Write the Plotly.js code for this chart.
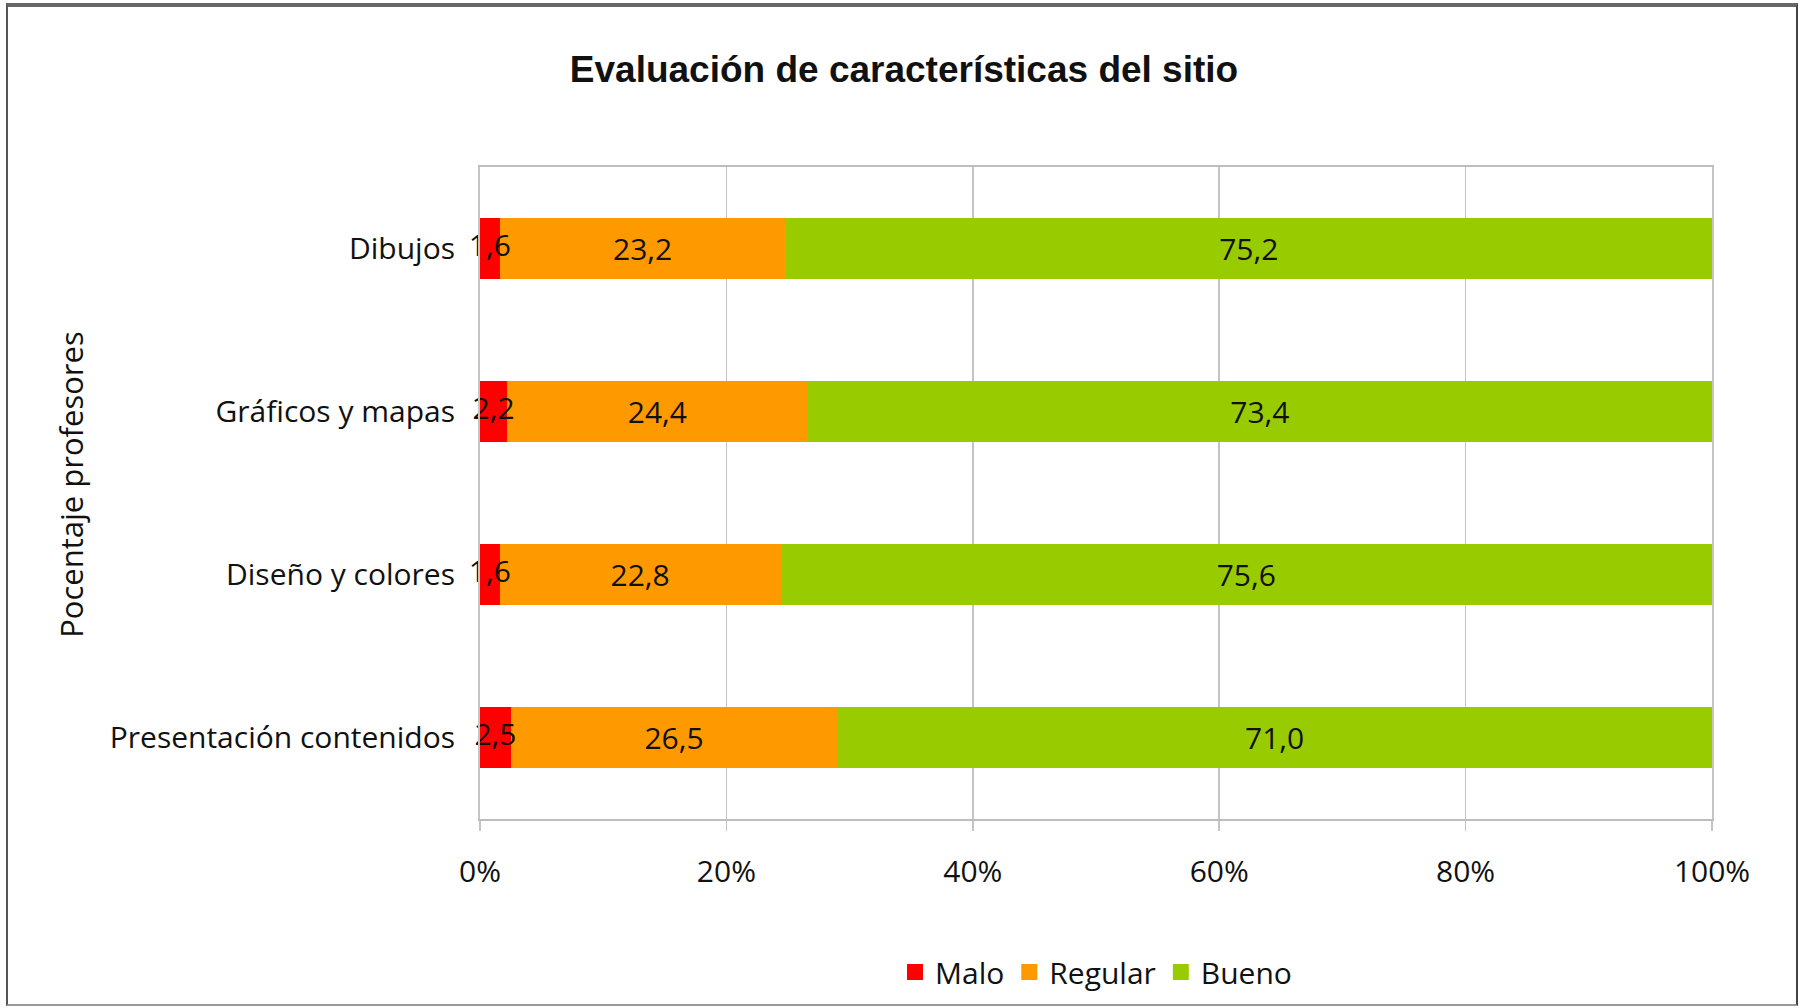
<!DOCTYPE html>
<html>
<head>
<meta charset="utf-8">
<script src="https://cdn.plot.ly/plotly-3.0.1.min.js"></script>
<style>
  html, body { margin: 0; padding: 0; background: #fff; }
  #wrap { position: relative; width: 1808px; height: 1008px; }
  #chart { width: 1808px; height: 1008px; }
  #frame { position: absolute; left: 6px; top: 3px; width: 1792px; height: 1003px;
           border-left: 2px solid #555; border-right: 2px solid #444; border-top: 4px solid #666; border-bottom: 2px solid #999;
           pointer-events: none; box-sizing: border-box; }
</style>
</head>
<body>
<div id="wrap">
  <div id="chart"></div>
  <div id="frame"></div>
</div>
<script>
const categories = ["Dibujos", "Gráficos y mapas", "Diseño y colores", "Presentación contenidos"];
const malo    = [1.6, 2.2, 1.6, 2.5];
const regular = [23.2, 24.4, 22.8, 26.5];
const bueno   = [75.2, 73.4, 75.6, 71.0];
const seriesNames = ["Malo", "Regular", "Bueno"];
const seriesColors = ["#FF0000", "#FF9900", "#99CC00"];
const xTickVals = [0, 20, 40, 60, 80, 100];
const xTickText = ["0%", "20%", "40%", "60%", "80%", "100%"];

const labelFont = { family: "Open Sans, Liberation Sans, sans-serif", size: 30, color: "#111" };

function series(name, vals, color, withText) {
  const t = {
    type: "bar", orientation: "h", name: name, showlegend: false,
    y: categories, x: vals,
    marker: { color: color, line: { width: 0 } },
    hoverinfo: "skip", cliponaxis: false
  };
  if (withText) {
    Object.assign(t, {
      texttemplate: "%{x:.1f}", textposition: "inside", insidetextanchor: "middle",
      textangle: 0, constraintext: "none", textfont: labelFont
    });
  } else {
    t.textposition = "none";
  }
  return t;
}

const data = [
  series(seriesNames[0], malo, seriesColors[0], false),
  series(seriesNames[1], regular, seriesColors[1], true),
  series(seriesNames[2], bueno, seriesColors[2], true),
  // labels of the thin "Malo" segments, drawn on top so they are not covered
  {
    type: "scatter", mode: "text", showlegend: false, hoverinfo: "skip",
    y: categories, x: malo.map(v => v / 2),
    text: malo.map(v => v.toFixed(1).replace(".", ",")),
    textposition: "middle center", textfont: labelFont, cliponaxis: false
  }
];

// legend entries (square swatches)
seriesNames.forEach((n, i) => {
  data.push({
    type: "scatter", mode: "markers", name: n, x: [null], y: [null],
    marker: { symbol: "square", size: 16, color: seriesColors[i] },
    hoverinfo: "skip", showlegend: true
  });
});

const layout = {
  width: 1808, height: 1008,
  margin: { l: 480, r: 96, t: 167, b: 189 },
  paper_bgcolor: "#fff", plot_bgcolor: "#fff",
  separators: ",.",
  barmode: "stack", bargap: 0.62,
  title: {
    text: "<b>Evaluación de características del sitio</b>",
    font: { family: "Liberation Sans Narrow, Arial Narrow, Liberation Sans, sans-serif", size: 37, color: "#111" },
    xref: "container", x: 0.5, xanchor: "center",
    yref: "container", y: 1 - 69 / 1008, yanchor: "middle"
  },
  xaxis: {
    range: [0, 100], tickvals: xTickVals, ticktext: xTickText,
    showgrid: true, gridcolor: "#c4c4c4", gridwidth: 1.5,
    showline: true, linecolor: "#bdbdbd", linewidth: 2, mirror: true,
    ticks: "outside", ticklen: 10, tickcolor: "#c4c4c4", tickwidth: 1.5,
    ticklabelstandoff: 15,
    tickfont: labelFont, zeroline: false, fixedrange: true
  },
  yaxis: {
    autorange: "reversed", type: "category",
    showline: true, linecolor: "#c4c4c4", linewidth: 2, mirror: true,
    showgrid: false, ticks: "", ticklabelstandoff: 17,
    tickfont: labelFont, fixedrange: true
  },
  showlegend: true,
  legend: {
    orientation: "h", x: 0.5, xanchor: "center",
    yref: "container", y: 1 - 972 / 1008, yanchor: "middle",
    font: labelFont, itemwidth: 30, traceorder: "normal",
    bgcolor: "rgba(0,0,0,0)"
  },
  annotations: [{
    text: "Pocentaje profesores", textangle: -90,
    xref: "paper", yref: "paper", x: -0.332, y: 0.514,
    xanchor: "center", yanchor: "middle", showarrow: false,
    font: Object.assign({}, labelFont, { size: 31 })
  }]
};

Plotly.newPlot("chart", data, layout, { displayModeBar: false, staticPlot: true });
</script>
</body>
</html>
